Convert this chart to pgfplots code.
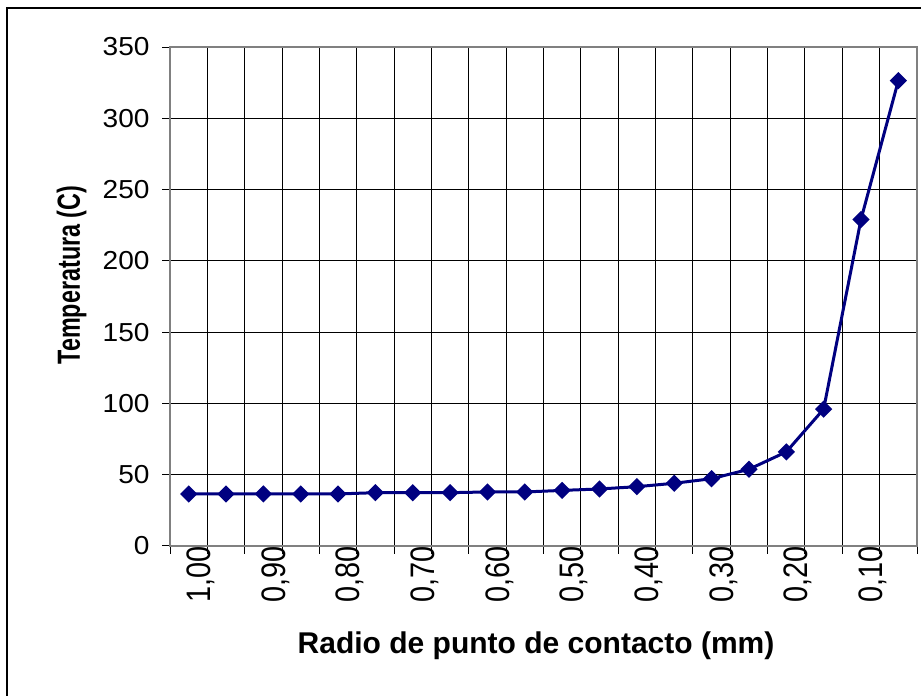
\documentclass[border=0pt]{standalone}
\usepackage{fontspec}
\setmainfont{Liberation Sans}
\newfontfamily\ytfont[FakeStretch=1.08]{Liberation Sans}
\newfontfamily\xtfont[FakeStretch=0.85]{Liberation Sans}
\newfontfamily\ylfont[FakeStretch=0.73]{Liberation Sans}
\usepackage{pgfplots}
\pgfplotsset{compat=1.18}
\definecolor{serie}{HTML}{000080}
\definecolor{marco}{HTML}{808080}

\begin{document}
\begin{tikzpicture}
\begin{axis}[
  at={(85pt,75pt)}, anchor=south west,
  scale only axis,
  width=373.5pt, height=249.5pt,
  xmin=-0.5, xmax=19.5,
  ymin=0, ymax=350,
  ytick={0,50,...,350},
  xtick={-0.5,0.5,...,19.5},
  xticklabels={},
  extra x ticks={0,2,...,18},
  extra x tick labels={{1,00},{0,90},{0,80},{0,70},{0,60},{0,50},{0,40},{0,30},{0,20},{0,10}},
  extra x tick style={major tick length=0pt, grid=none},
  xmajorgrids, ymajorgrids,
  major grid style={black, line width=0.5pt},
  axis line style={marco, line width=1pt},
  tick align=outside,
  tick pos=left,
  major tick length=4pt,
  tick style={black, line width=0.5pt},
  /pgf/number format/assume math mode=true,
  yticklabel style={font=\ytfont\fontsize{13}{13}\selectfont, anchor=east, inner sep=0pt, xshift=-6pt},
  xticklabel style={font=\xtfont\fontsize{17}{17}\selectfont, rotate=90, anchor=east, inner sep=0pt, yshift=-6pt},
  xlabel={Radio de punto de contacto (mm)},
  ylabel={Temperatura (C)},
  xlabel style={font=\bfseries\fontsize{15}{15}\selectfont, at={(rel axis cs:0.49,0)}, anchor=base, yshift=-53.5pt},
  ylabel style={font=\ylfont\bfseries\fontsize{16}{16}\selectfont, at={(rel axis cs:0,0.543)}, rotate=0, anchor=base, yshift=45pt},
]
\addplot[serie, line width=1.5pt, mark=square*, mark size=2.3pt,
  mark options={rotate=45, solid, fill=serie}] coordinates {
  (0,36.5) (1,36.5) (2,36.5) (3,36.5) (4,36.5)
  (5,37.4) (6,37.4) (7,37.4) (8,37.9) (9,37.9)
  (10,39) (11,40) (12,41.6) (13,44) (14,47.2)
  (15,53.8) (16,66) (17,96) (18,229) (19,326.4)
};
\end{axis}
\draw[black, line width=0.6pt] (3.5pt,-10pt) rectangle (470pt,344pt);
\pgfresetboundingbox
\useasboundingbox (0,0) rectangle (460.5pt,348pt);
\end{tikzpicture}
\end{document}
